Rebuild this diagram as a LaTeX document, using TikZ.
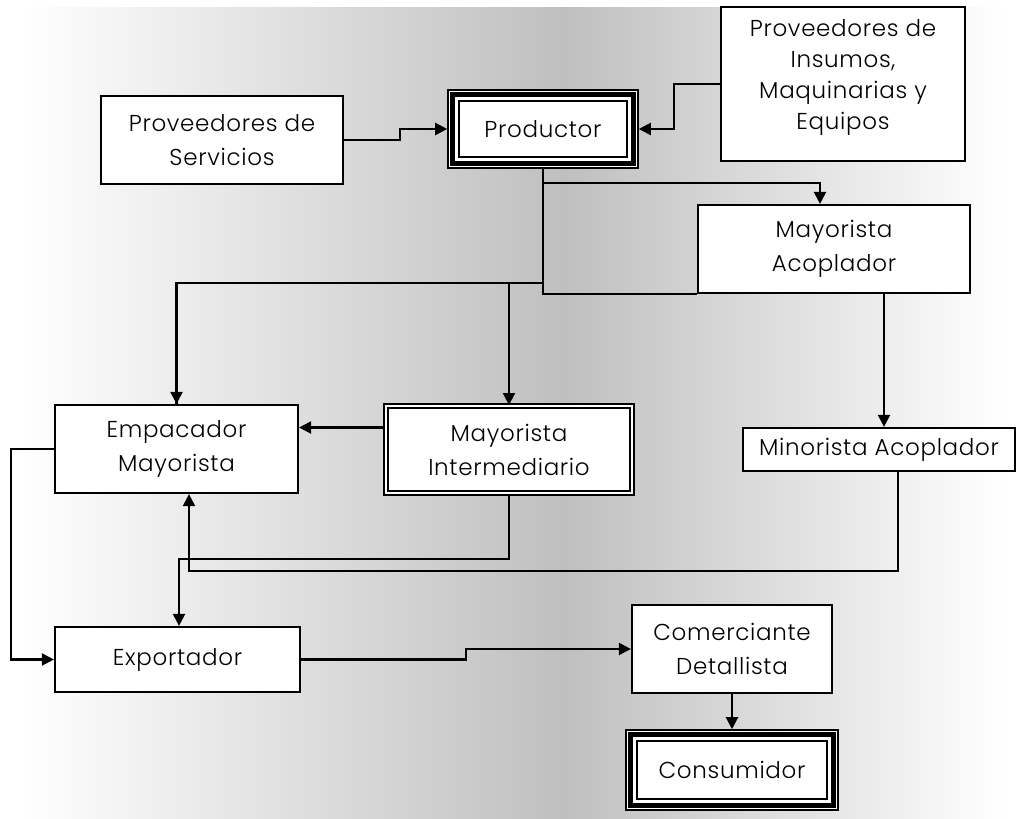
\documentclass[tikz,border=0pt]{standalone}
\usepackage{fontspec}
\IfFontExistsTF{Poppins Light}{\setmainfont{Poppins Light}[LetterSpace=3]}{\setmainfont{Poppins}[LetterSpace=3]}
\usetikzlibrary{arrows.meta,calc}
\begin{document}
\begin{tikzpicture}[x=1pt,y=-1pt,
  box/.style={draw=black,line width=2.2pt,fill=white,rectangle,align=center,inner sep=0pt,
    font=\fontsize{23}{34}\selectfont},
  conn/.style={line width=2.2pt,draw=black},
  arr/.style={conn,-{Triangle[length=12pt,width=12pt]}},
  dbl/.style={box,double,double distance=2pt,line width=2pt}
]
\useasboundingbox (0,0) rectangle (1020,819);
% background gradient
\fill[white] (0,0) rectangle (1020,819);
\shade[left color=white,right color=black!25] (20,7) rectangle (565,819);
\shade[left color=black!25,right color=white] (565,7) rectangle (1005,819);
\fill[white] (1005,7) rectangle (1020,819);

% nodes
\node[box,minimum width=242pt,minimum height=88pt] (serv) at (222,140) {Proveedores de\\Servicios};
\node[box,line width=1.6pt,minimum width=190pt,minimum height=78pt] (prod) at (543,129) {Productor};
\draw[line width=4.5pt] ([shift={(5.5,5.5)}]prod.north west) rectangle ([shift={(-5.5,-5.5)}]prod.south east);
\draw[line width=2pt] ([shift={(11.5,11.5)}]prod.north west) rectangle ([shift={(-11.5,-11.5)}]prod.south east);
\node[box,minimum width=244pt,minimum height=154pt] (insum) at (843,84) {};
\node[font=\fontsize{23}{31}\selectfont,align=center] (insumt) at (843,77) {Proveedores de\\Insumos,\\Maquinarias y\\Equipos};
\node[box,minimum width=272pt,minimum height=88pt] (mayac) at (834,249) {Mayorista\\Acoplador};
\node[box,minimum width=243pt,minimum height=88pt] (emp) at (176.5,449) {Empacador\\Mayorista};
\node[dbl,minimum width=246pt,minimum height=87pt] (minter) at (509,449.5) {Mayorista\\Intermediario};
\node[box,minimum width=272pt,minimum height=43pt] (minac) at (879,449.5) {Minorista Acoplador};
\node[box,minimum width=245pt,minimum height=65pt] (expo) at (177.5,659.5) {Exportador};
\node[box,minimum width=200pt,minimum height=88pt] (com) at (732,649) {Comerciante\\Detallista};
\node[box,line width=1.6pt,minimum width=212pt,minimum height=80pt] (cons) at (732,770) {Consumidor};
\draw[line width=4.5pt] ([shift={(5.5,5.5)}]cons.north west) rectangle ([shift={(-5.5,-5.5)}]cons.south east);
\draw[line width=2pt] ([shift={(11.5,11.5)}]cons.north west) rectangle ([shift={(-11.5,-11.5)}]cons.south east);

% helper coordinates
\coordinate (j1) at (543,183);
\coordinate (j2) at (543,283);
\coordinate (y559) at (0,559);
\coordinate (y571) at (0,571);
\coordinate (x884) at (884,0);
\coordinate (x898) at (898,0);

% connectors
\draw[arr] (serv.east) -- ++(56,0) |- (prod.west);
\draw[arr] (insum.west) -- ++(-46,0) |- (prod.east);
\draw[conn] (prod.south) |- (mayac.south west);
\draw[arr] (j1) -| ([xshift=-14pt]mayac.north);
\draw[conn] (j2) -| (emp.north);
\draw[arr] (j2 -| emp.north) -- (emp.north);
\draw[arr] (j2 -| minter.north) -- (minter.north);
\draw[arr] (mayac.south -| x884) -- (minac.north -| x884);
\draw[arr] ([yshift=22pt]minter.west) -- ([yshift=22pt]minter.west -| emp.east);
\draw[arr] (minter.south) |- ([xshift=1.5pt]expo.north |- y559) -- ([xshift=1.5pt]expo.north);
\draw[arr] (minac.south -| x898) |- ([xshift=12.5pt]emp.south |- y571) -- ([xshift=12.5pt]emp.south);
\draw[arr] (emp.west) -- ++(-43,0) |- (expo.west);
\draw[arr] (expo.east) -- ++(165,0) |- (com.west);
\draw[arr] (com.south) -- (cons.north);
\end{tikzpicture}
\end{document}
